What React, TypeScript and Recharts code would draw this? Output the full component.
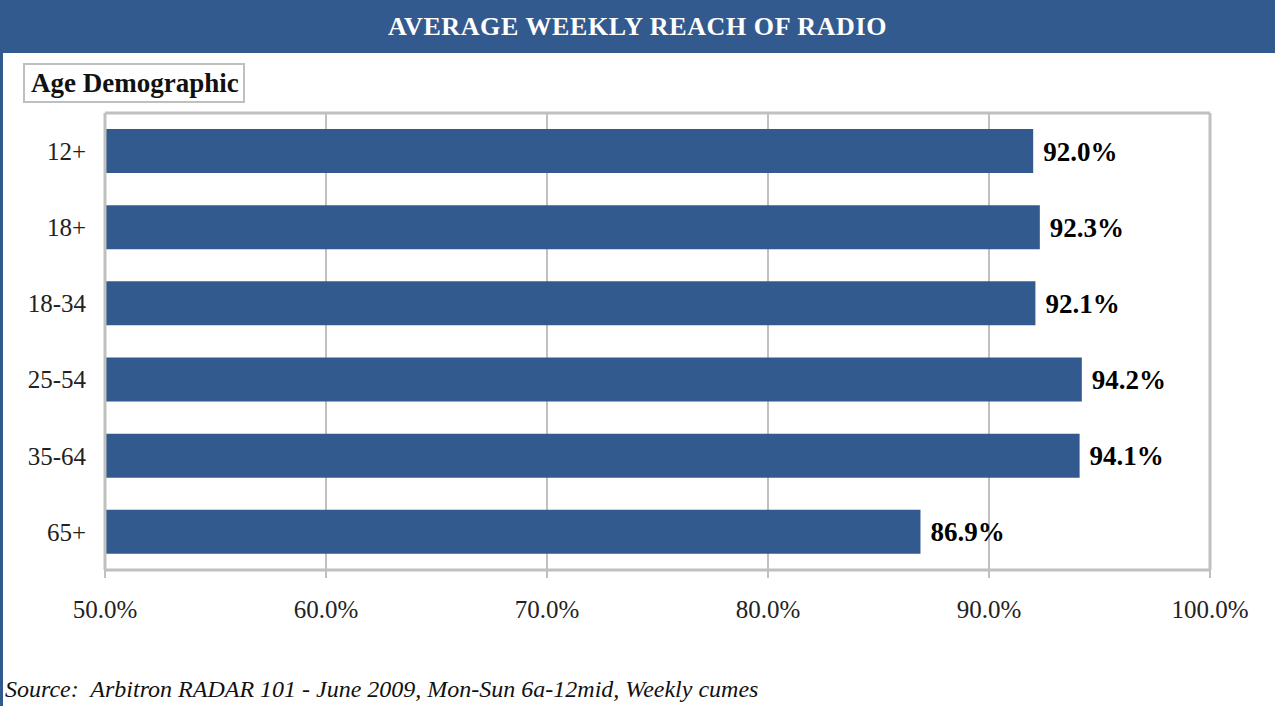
import { BarChart, Bar, XAxis, YAxis, CartesianGrid, LabelList } from "recharts";

const ageGroups = ["12+", "18+", "18-34", "25-54", "35-64", "65+"];
const weeklyReach = [92.0, 92.3, 92.1, 94.2, 94.1, 86.9];
const reachTicks = [50, 60, 70, 80, 90, 100];
const bandEdges = [0, 1, 2, 3, 4, 5, 6];

const rows = ageGroups.map((age, i) => ({ age, reach: weeklyReach[i] }));

const BLUE = "#335a8e";
const GRID = "#c0c0c0";
const FONT = "'Liberation Serif', 'Times New Roman', serif";

const fmtPct = (v: number) => v.toFixed(1) + "%";

function App() {
  return (
    <div
      style={{
        position: "absolute",
        top: 0,
        left: 0,
        width: 1275,
        height: 706,
        background: "#fff",
        fontFamily: FONT,
        overflow: "hidden",
      }}
    >
      <div
        style={{
          position: "absolute",
          top: 0,
          left: 0,
          width: 1275,
          height: 53,
          background: BLUE,
          color: "#fff",
          fontWeight: "bold",
          fontSize: 26,
          letterSpacing: 0.6,
          lineHeight: "53px",
          textAlign: "center",
        }}
      >
        AVERAGE WEEKLY REACH OF RADIO
      </div>
      <div
        style={{
          position: "absolute",
          top: 53,
          left: 0,
          width: 3,
          height: 653,
          background: BLUE,
        }}
      />
      <div
        style={{
          position: "absolute",
          top: 63,
          left: 23,
          width: 212,
          height: 36,
          border: "2px solid #bfbfbf",
          fontWeight: "bold",
          fontSize: 27,
          lineHeight: "37px",
          paddingLeft: 6,
          boxSizing: "content-box",
          color: "#111",
          whiteSpace: "nowrap",
        }}
      >
        Age Demographic
      </div>

      <div style={{ position: "absolute", top: 0, left: 0 }}>
        <BarChart
          width={1275}
          height={706}
          data={rows}
          layout="vertical"
          margin={{ top: 112, right: 64, bottom: 96, left: 103 }}
        >
          <CartesianGrid horizontal={false} stroke={GRID} strokeWidth={2} />
          <XAxis
            type="number"
            dataKey="reach"
            domain={[50, 100]}
            ticks={reachTicks}
            tickFormatter={fmtPct}
            height={40}
            axisLine={{ stroke: GRID, strokeWidth: 3 }}
            tickLine={{ stroke: GRID, strokeWidth: 2 }}
            tickSize={8}
            tickMargin={22}
            tick={{ fill: "#222", fontSize: 25, fontFamily: FONT }}
          />
          <XAxis
            xAxisId="top"
            orientation="top"
            type="number"
            domain={[50, 100]}
            ticks={reachTicks}
            height={1}
            tick={false}
            tickLine={false}
            axisLine={{ stroke: GRID, strokeWidth: 3 }}
          />
          <YAxis
            type="category"
            dataKey="age"
            width={1}
            axisLine={{ stroke: GRID, strokeWidth: 3 }}
            tickLine={false}
            tickSize={0}
            tickMargin={19}
            tick={{ fill: "#222", fontSize: 25, fontFamily: FONT }}
          />
          <YAxis
            yAxisId="edges"
            type="number"
            domain={[0, 6]}
            ticks={bandEdges}
            width={1}
            axisLine={false}
            tick={false}
            tickSize={7}
            tickLine={{ stroke: GRID, strokeWidth: 3 }}
          />
          <YAxis
            yAxisId="right"
            orientation="right"
            type="number"
            domain={[0, 6]}
            width={1}
            tick={false}
            tickLine={false}
            axisLine={{ stroke: GRID, strokeWidth: 3 }}
          />
          <Bar dataKey="reach" fill={BLUE} barSize={44} isAnimationActive={false}>
            <LabelList
              dataKey="reach"
              position="right"
              offset={10}
              formatter={(v: any) => fmtPct(Number(v))}
              style={{ fill: "#000", fontWeight: "bold", fontSize: 27, fontFamily: FONT }}
            />
          </Bar>
        </BarChart>
      </div>

      <div
        style={{
          position: "absolute",
          left: 5,
          top: 675,
          fontStyle: "italic",
          fontSize: 24,
          lineHeight: "28px",
          color: "#111",
          whiteSpace: "pre",
        }}
      >
        {"Source:  Arbitron RADAR 101 - June 2009, Mon-Sun 6a-12mid, Weekly cumes"}
      </div>
    </div>
  );
}

export default App;
